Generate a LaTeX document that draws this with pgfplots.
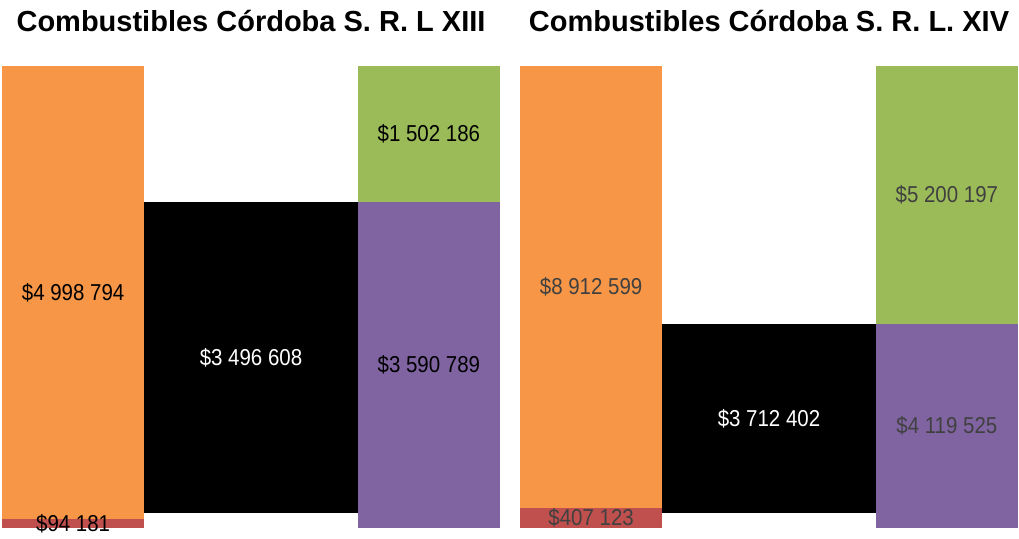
\documentclass[border=0pt]{standalone}
\usepackage{pgfplots}
\pgfplotsset{compat=1.18}
\usepackage{fontspec}
\setmainfont{Liberation Sans}
\newfontfamily\lblfont{Liberation Sans}[FakeStretch=0.89]

\definecolor{cOrange}{HTML}{F79646}
\definecolor{cRed}{HTML}{C0504D}
\definecolor{cPurple}{HTML}{8064A2}
\definecolor{cGreen}{HTML}{9BBB59}
\definecolor{cGrayTxt}{HTML}{404040}

\pgfplotsset{
  panel/.style={
    scale only axis,
    width=498bp, height=462bp,
    xmin=0, xmax=3.5, ymin=0,
    axis lines=none, xtick=\empty, ytick=\empty,
    clip=false,
    title style={font=\fontsize{29bp}{34bp}\selectfont\bfseries,
      at={(axis description cs:0.5,1)}, anchor=center, yshift=39bp},
  },
}
\tikzset{lbl/.style={font=\lblfont\fontsize{23bp}{26bp}\selectfont, anchor=center}}

\begin{document}
\begin{tikzpicture}
\useasboundingbox (0,0) rectangle (1019bp,539bp);

% left panel
\begin{axis}[panel, at={(2bp,11bp)}, anchor=south west, ymax=5092975,
  title={Combustibles Córdoba S. R. L XIII}]
\addplot[fill=cRed, draw=none] coordinates {(0,0) (1,0) (1,94181) (0,94181)} -- cycle;
\addplot[fill=cOrange, draw=none] coordinates {(0,94181) (1,94181) (1,5092975) (0,5092975)} -- cycle;
\addplot[fill=black, draw=none] coordinates {(1,165000) (2.5,165000) (2.5,3590789) (1,3590789)} -- cycle;
\addplot[fill=cPurple, draw=none] coordinates {(2.5,0) (3.5,0) (3.5,3590789) (2.5,3590789)} -- cycle;
\addplot[fill=cGreen, draw=none] coordinates {(2.5,3590789) (3.5,3590789) (3.5,5092975) (2.5,5092975)} -- cycle;
\node[lbl] at (axis cs:0.5,2593578) {\$4 998 794};
\node[lbl] at (axis cs:0.5,47091) {\$94 181};
\node[lbl, text=white] at (axis cs:1.75,1877895) {\$3 496 608};
\node[lbl] at (axis cs:3,1795395) {\$3 590 789};
\node[lbl] at (axis cs:3,4341882) {\$1 502 186};
\end{axis}

% right panel
\begin{axis}[panel, at={(520bp,11bp)}, anchor=south west, ymax=9319722,
  title={Combustibles Córdoba S. R. L. XIV}]
\addplot[fill=cRed, draw=none] coordinates {(0,0) (1,0) (1,407123) (0,407123)} -- cycle;
\addplot[fill=cOrange, draw=none] coordinates {(0,407123) (1,407123) (1,9319722) (0,9319722)} -- cycle;
\addplot[fill=black, draw=none] coordinates {(1,300000) (2.5,300000) (2.5,4119525) (1,4119525)} -- cycle;
\addplot[fill=cPurple, draw=none] coordinates {(2.5,0) (3.5,0) (3.5,4119525) (2.5,4119525)} -- cycle;
\addplot[fill=cGreen, draw=none] coordinates {(2.5,4119525) (3.5,4119525) (3.5,9319722) (2.5,9319722)} -- cycle;
\node[lbl, text=cGrayTxt] at (axis cs:0.5,4863422) {\$8 912 599};
\node[lbl, text=cGrayTxt] at (axis cs:0.5,203562) {\$407 123};
\node[lbl, text=white] at (axis cs:1.75,2209763) {\$3 712 402};
\node[lbl, text=cGrayTxt] at (axis cs:3,2059763) {\$4 119 525};
\node[lbl, text=cGrayTxt] at (axis cs:3,6719624) {\$5 200 197};
\end{axis}
\end{tikzpicture}
\end{document}
